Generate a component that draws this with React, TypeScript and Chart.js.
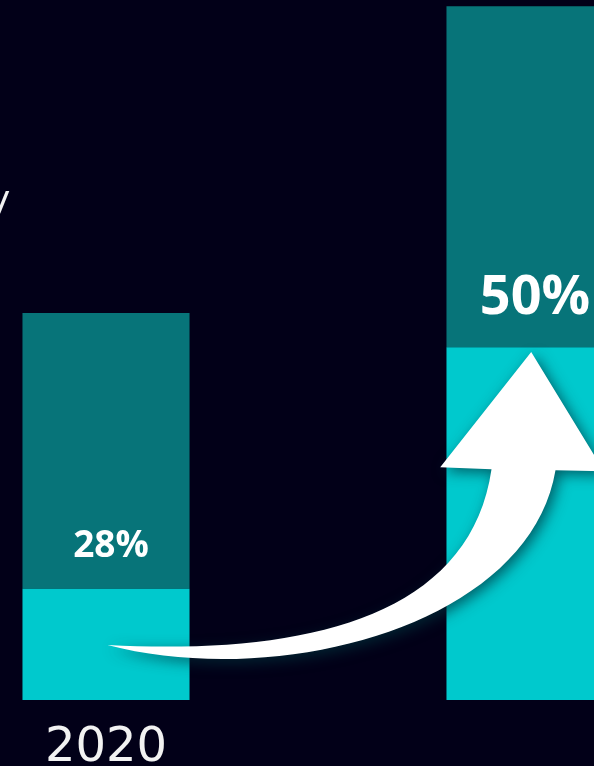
import { useEffect, useRef } from "react";
import { Chart, registerables } from "chart.js";

Chart.register(...registerables);

// ---- data ----
const categories = ["2020", ""];
const lowerValues = [15.9, 50.4];
const upperValues = [39.4, 48.7];
const shareLabels = ["28%", "50%"];
const sideText = "y";

// ---- style ----
const BG = "#020018";
const CYAN = "#00c9cd";
const TEAL = "#077479";
const TEXT = "#f2f2f2";
const LABEL_SIZES = [37, 54];
const LABEL_RISE = [42, 49];
const CANVAS_W = 848;
const CANVAS_H = 777;
const CANVAS_LEFT = -106;
const Y_MIN = -2.77;
const Y_MAX = 100;

// arrow outline in a reference frame: tail at (108,645), tip at (531.7,351.7)
const TAIL_REF = [108, 645];
const TIP_REF = [531.7, 351.7];

const arrowPlugin = {
  id: "arrowPlugin",
  afterDatasetsDraw(chart: any) {
    const ctx = chart.ctx as CanvasRenderingContext2D;
    const m0 = chart.getDatasetMeta(0);
    const m1 = chart.getDatasetMeta(1);
    const leftLow = m0.data[0];
    const rightLow = m0.data[1];

    // value labels
    for (let i = 0; i < shareLabels.length; i++) {
      const el = m0.data[i];
      const top = m1.data[i];
      if (!el || !top) continue;
      ctx.save();
      ctx.fillStyle = "#ffffff";
      ctx.font = `bold ${LABEL_SIZES[i]}px "Open Sans", "Noto Sans", sans-serif`;
      ctx.textAlign = "center";
      ctx.textBaseline = "middle";
      ctx.fillText(shareLabels[i], el.x + 5, el.y - LABEL_RISE[i]);
      ctx.restore();
    }

    // arrow
    const tail = [leftLow.x + 1.5, leftLow.base - 55];
    const tip = [rightLow.x + 1.2, rightLow.y + 4.7];
    const sx = (tip[0] - tail[0]) / (TIP_REF[0] - TAIL_REF[0]);
    const sy = (tip[1] - tail[1]) / (TIP_REF[1] - TAIL_REF[1]);
    const P = (x: number, y: number): [number, number] => [
      tail[0] + (x - TAIL_REF[0]) * sx,
      tail[1] + (y - TAIL_REF[1]) * sy,
    ];
    ctx.save();
    ctx.beginPath();
    ctx.moveTo(...P(108, 645));
    ctx.bezierCurveTo(...P(300, 655), ...P(470, 620), ...P(492, 469));
    ctx.lineTo(...P(440.7, 467));
    ctx.lineTo(...P(531.7, 351.7));
    ctx.lineTo(...P(604.5, 471));
    ctx.lineTo(...P(556, 470));
    ctx.bezierCurveTo(...P(530, 625), ...P(280, 690), ...P(108, 645));
    ctx.closePath();
    ctx.shadowColor = "rgba(0, 50, 60, 0.7)";
    ctx.shadowBlur = 14;
    ctx.shadowOffsetX = 4;
    ctx.shadowOffsetY = 4;
    ctx.fillStyle = "#ffffff";
    ctx.fill();
    ctx.restore();

    // fragment of side text at the left edge
    ctx.save();
    ctx.fillStyle = TEXT;
    ctx.font = `36px "DejaVu Sans", sans-serif`;
    ctx.textAlign = "left";
    ctx.textBaseline = "alphabetic";
    ctx.fillText(sideText, -CANVAS_LEFT - 11, 211);
    ctx.restore();
  },
};

export default function App() {
  const ref = useRef<HTMLCanvasElement | null>(null);
  useEffect(() => {
    if (!ref.current) return;
    const chart = new Chart(ref.current, {
      type: "bar",
      data: {
        labels: categories,
        datasets: [
          {
            data: lowerValues,
            backgroundColor: CYAN,
            borderWidth: 0,
            categoryPercentage: 1,
            barPercentage: 0.394,
          },
          {
            data: upperValues,
            backgroundColor: TEAL,
            borderWidth: 0,
            categoryPercentage: 1,
            barPercentage: 0.394,
          },
        ],
      },
      options: {
        responsive: false,
        animation: false,
        layout: { padding: 0 },
        plugins: {
          legend: { display: false },
          tooltip: { enabled: false },
        },
        scales: {
          x: {
            stacked: true,
            grid: { display: false, drawTicks: false },
            border: { display: false },
            ticks: {
              color: TEXT,
              font: { family: '"DejaVu Sans", sans-serif', size: 48, lineHeight: 1.2 },
              padding: 0,
            },
          },
          y: {
            stacked: true,
            display: false,
            min: Y_MIN,
            max: Y_MAX,
          },
        },
      },
      plugins: [arrowPlugin],
    });
    return () => chart.destroy();
  }, []);

  return (
    <div
      style={{
        position: "fixed",
        left: 0,
        top: 0,
        width: 594,
        height: 766,
        overflow: "hidden",
        background: BG,
      }}
    >
      <canvas
        ref={ref}
        width={CANVAS_W}
        height={CANVAS_H}
        style={{ position: "absolute", left: CANVAS_LEFT, top: 0, width: CANVAS_W, height: CANVAS_H }}
      />
    </div>
  );
}
